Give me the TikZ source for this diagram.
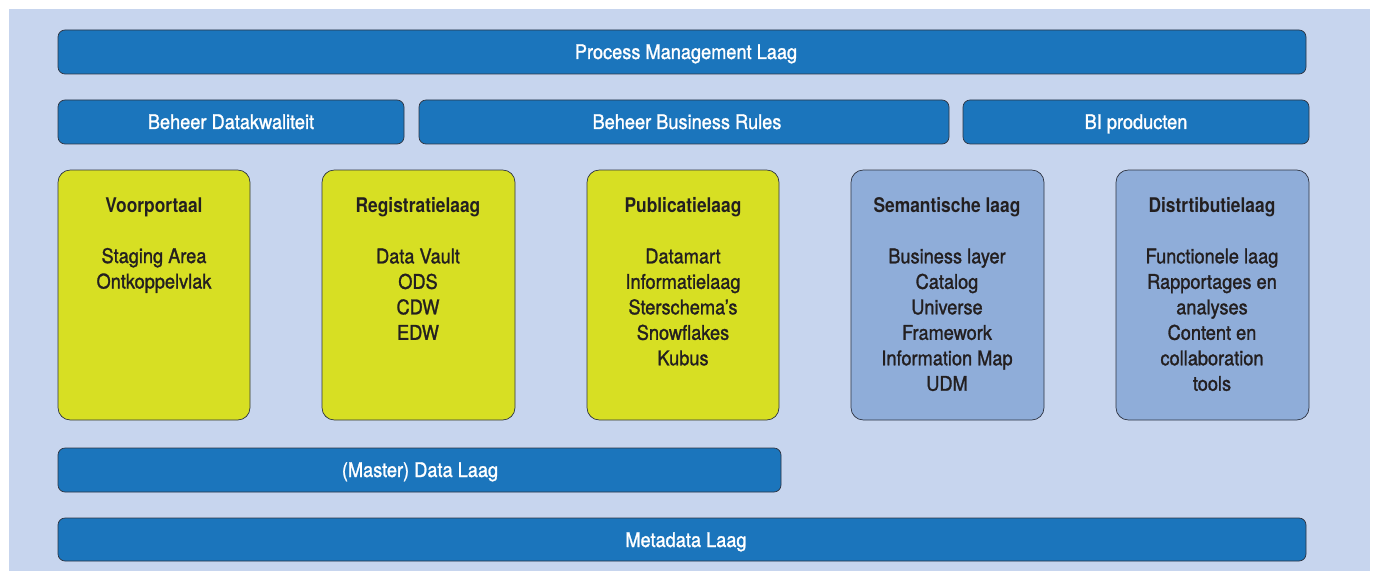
\documentclass[tikz,border=0pt]{standalone}
\usepackage{fontspec}
\setmainfont{TeX Gyre Heros}[
    UprightFeatures={FakeStretch=0.9, FakeBold=1.3},
    BoldFeatures={FakeStretch=0.86}]
\usepackage{tikz}

\definecolor{achtergrond}{HTML}{C7D5EE}
\definecolor{laagblauw}{HTML}{1B75BC}
\definecolor{geelgroen}{HTML}{D7DF23}
\definecolor{lichtblauw}{HTML}{8FADD9}
\definecolor{rand}{HTML}{2E3442}
\definecolor{tekst}{HTML}{231F20}

\begin{document}
\begin{tikzpicture}[x=0.02cm, y=-0.02cm,
    laag/.style={draw=rand, thin, fill=laagblauw, rounded corners=4pt},
    kolom/.style={draw=rand, thin, rounded corners=7pt},
    balktekst/.style={text=white, anchor=base, font=\fontsize{11.5}{14}\selectfont},
    kolomtekst/.style={text=tekst, align=center, anchor=north, inner sep=0pt,
        font=\fontsize{11.5}{14.5}\selectfont}]
    \useasboundingbox (0,0) rectangle (1373,571);
    \fill[achtergrond] (9,9) rectangle (1370,571);

    % horizontale lagen
    \draw[laag] (58,30) rectangle (1306,74);
    \node[balktekst] (pm) at (686,59) {Process Management Laag};
    \draw[laag] (58,100) rectangle (404,144);
    \node[balktekst] (dk) at (231,129) {Beheer Datakwaliteit};
    \draw[laag] (419,100) rectangle (949,144);
    \node[balktekst] (br) at (687,129) {Beheer Business Rules};
    \draw[laag] (963,100) rectangle (1309,144);
    \node[balktekst] (bi) at (1136,129) {BI producten};
    \draw[laag] (58,448) rectangle (781,492);
    \node[balktekst] (md) at (420,477) {(Master) Data Laag};
    \draw[laag] (58,518) rectangle (1306,561);
    \node[balktekst] (meta) at (686,547) {Metadata Laag};

    % kolommen
    \draw[kolom, fill=geelgroen] (58,170) rectangle (250,420);
    \draw[kolom, fill=geelgroen] (322,170) rectangle (515,420);
    \draw[kolom, fill=geelgroen] (587,170) rectangle (779,420);
    \draw[kolom, fill=lichtblauw] (851,170) rectangle (1044,420);
    \draw[kolom, fill=lichtblauw] (1116,170) rectangle (1309,420);

    \node[kolomtekst] (voor) at (154,197)
        {\textbf{Voorportaal}\\[14.5pt]Staging Area\\Ontkoppelvlak};
    \node[kolomtekst] (reg) at (418,197)
        {\textbf{Registratielaag}\\[14.5pt]Data Vault\\ODS\\CDW\\EDW};
    \node[kolomtekst] (pub) at (683,197)
        {\textbf{Publicatielaag}\\[14.5pt]Datamart\\Informatielaag\\Sterschema’s\\Snowflakes\\Kubus};
    \node[kolomtekst] (sem) at (947,197)
        {\textbf{Semantische laag}\\[14.5pt]Business layer\\Catalog\\Universe\\Framework\\Information Map\\UDM};
    \node[kolomtekst] (dis) at (1212,197)
        {\textbf{Distrtibutielaag}\\[14.5pt]Functionele laag\\Rapportages en\\analyses\\Content en\\collaboration\\tools};
\end{tikzpicture}
\end{document}
